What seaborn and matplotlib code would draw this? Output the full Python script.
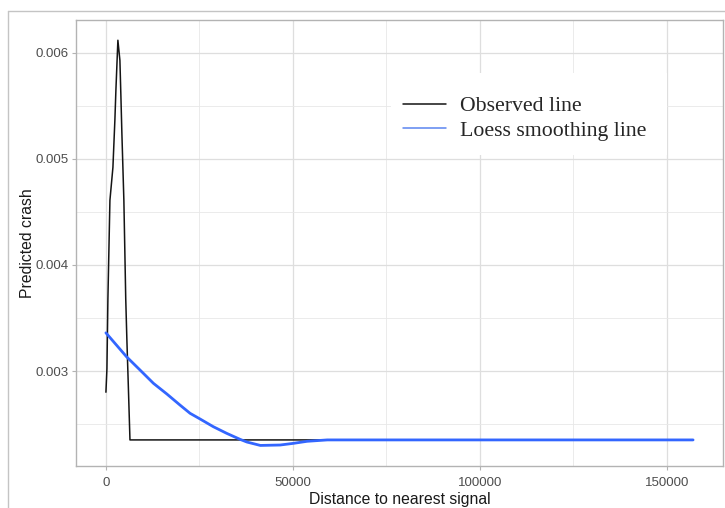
import matplotlib
matplotlib.use("Agg")
import matplotlib.pyplot as plt
from matplotlib.lines import Line2D
from matplotlib.patches import Rectangle
from matplotlib.ticker import FixedLocator, FuncFormatter
import seaborn as sns
import pandas as pd

# Observed predicted crash by distance to the nearest signal
obs_distance = [0, 270, 530, 1070, 1870, 2400, 2670, 3200, 3740, 4000, 4270,
                4540, 4800, 5300, 5600, 6000, 6430, 20000, 60000, 100000, 157000]
obs_crash = [0.00280, 0.00302, 0.00368, 0.00461, 0.00492, 0.00537, 0.00565,
             0.00612, 0.00593, 0.00560, 0.00524, 0.00492, 0.00461, 0.00368,
             0.00330, 0.00285, 0.00235, 0.00235, 0.00235, 0.00235, 0.00235]

# Loess smoothed curve
loess_distance = [0, 5500, 9100, 12700, 16300, 19800, 22500, 25200, 28700,
                  32300, 35900, 37700, 41300, 46600, 50200, 53800, 59200,
                  100000, 157000]
loess_crash = [0.00336, 0.003135, 0.00301, 0.002884, 0.002783, 0.002679,
               0.002601, 0.002547, 0.002475, 0.002412, 0.002355, 0.00233,
               0.002298, 0.002302, 0.002318, 0.002337, 0.00235, 0.00235,
               0.00235]

x_ticks = [0, 50000, 100000, 150000]
y_ticks = [0.003, 0.004, 0.005, 0.006]
legend_labels = ["Observed line", "Loess smoothing line"]

sns.set_theme(style="whitegrid")
plt.rcParams["font.family"] = ["Liberation Sans", "DejaVu Sans"]

obs_df = pd.DataFrame({"distance": obs_distance, "crash": obs_crash})
loess_df = pd.DataFrame({"distance": loess_distance, "crash": loess_crash})

fig = plt.figure(figsize=(7.25, 5.08), dpi=100)
ax = fig.add_axes([76 / 725, 1 - 466 / 508, 647 / 725, 446 / 508])
ax.set_facecolor("white")

obs_color = "#141414"
loess_color = "#3366FF"
sns.lineplot(data=obs_df, x="distance", y="crash", ax=ax, color=obs_color,
             linewidth=1.1, sort=False, estimator=None, zorder=3)
sns.lineplot(data=loess_df, x="distance", y="crash", ax=ax, color=loess_color,
             linewidth=2.0, sort=False, estimator=None, zorder=4)

ax.set_xlim(-8000, 165000)
ax.set_ylim(0.002104, 0.006311)

ax.xaxis.set_major_locator(FixedLocator(x_ticks))
ax.yaxis.set_major_locator(FixedLocator(y_ticks))
ax.xaxis.set_minor_locator(FixedLocator([25000, 75000, 125000]))
ax.yaxis.set_minor_locator(FixedLocator([0.0025, 0.0035, 0.0045, 0.0055]))
ax.xaxis.set_major_formatter(FuncFormatter(lambda v, p: f"{int(v)}"))
ax.yaxis.set_major_formatter(FuncFormatter(lambda v, p: f"{v:.3f}"))

ax.grid(True, which="major", color="#DEDEDE", linewidth=0.9)
ax.grid(True, which="minor", color="#E8E8E8", linewidth=0.6)
ax.set_axisbelow(True)

for side in ["left", "right", "top", "bottom"]:
    ax.spines[side].set_visible(True)
    ax.spines[side].set_color("#B3B3B3")
    ax.spines[side].set_linewidth(1.0)

ax.tick_params(axis="both", which="major", length=3.2, width=0.8,
               color="#B3B3B3", labelsize=9.5, labelcolor="#4D4D4D",
               bottom=True, left=True)
ax.tick_params(axis="x", which="major", pad=4.8)
ax.tick_params(axis="y", which="major", pad=2.0)
ax.tick_params(axis="both", which="minor", length=0)

ax.set_xlabel("Distance to nearest signal", fontsize=11.3, color="#1A1A1A",
              labelpad=2.2)
ax.set_ylabel("Predicted crash", fontsize=11.3, color="#1A1A1A",
              labelpad=0.8)

# White backing box for the legend
legend_box = Rectangle((391 / 725, 1 - 155 / 508), 276 / 725, 82 / 508,
                       transform=fig.transFigure, facecolor="white",
                       edgecolor="none", zorder=2)
fig.add_artist(legend_box)
ax.patch.set_zorder(0)

handles = [Line2D([], [], color=obs_color, linewidth=1.1),
           Line2D([], [], color="#5B85F0", linewidth=1.1)]
leg = fig.legend(handles, legend_labels, loc="upper left",
                 bbox_to_anchor=(403 / 725, 1 - 96 / 508),
                 frameon=False, handlelength=1.95, handletextpad=0.65,
                 labelspacing=0.21, borderpad=0.0, borderaxespad=0.0,
                 prop={"family": "Liberation Serif", "size": 15.7})
leg.set_zorder(5)

# Thin outer frame around the figure
fig.add_artist(Line2D([8 / 725, 8 / 725], [0, 1 - 11 / 508],
                      transform=fig.transFigure, color="#C4C4C4", linewidth=1.0))
fig.add_artist(Line2D([8 / 725, 1], [1 - 11 / 508, 1 - 11 / 508],
                      transform=fig.transFigure, color="#C4C4C4", linewidth=1.0))

fig.savefig("out.png", dpi=100, facecolor="white")
